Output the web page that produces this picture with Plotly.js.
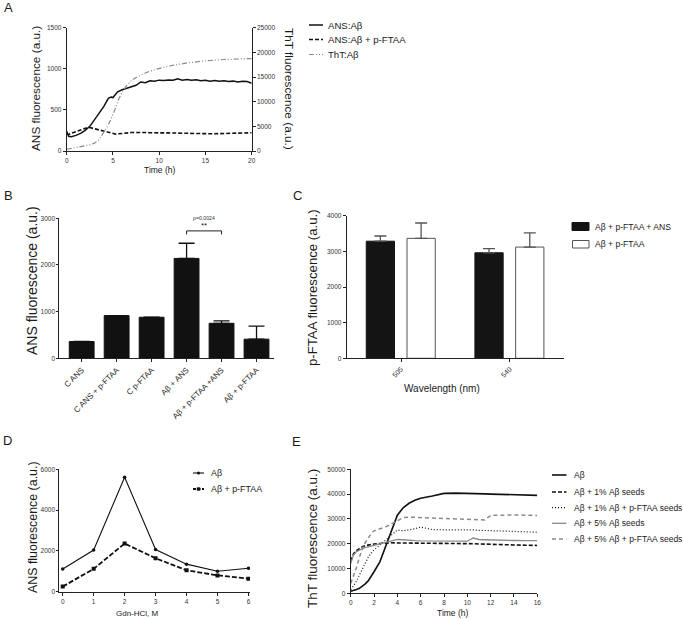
<!DOCTYPE html>
<html>
<head>
<meta charset="utf-8">
<script src="https://cdn.plot.ly/plotly-3.0.1.min.js"></script>
<style>html,body{margin:0;padding:0;background:#fff;}#chart{width:683px;height:619px;}</style>
</head>
<body>
<div id="chart"></div>
<script>
// ---------- Panel A ----------
const tA = [0,0.2,0.5,1,1.5,2,2.5,3,3.5,4,4.5,4.8,5,5.3,5.5,6,6.5,7,7.5,8,8.5,9,9.5,10,10.5,11,11.5,12,12.5,13,13.5,14,14.5,15,15.5,16,16.5,17,17.5,18,18.5,19,19.5,20];
const ansAb = [240,180,175,190,215,250,300,375,455,540,640,655,650,700,720,745,765,785,800,840,830,855,850,862,858,865,860,878,862,870,860,868,855,860,850,858,848,855,845,850,840,848,845,825];
const ansAbFtaa = [215,200,215,235,255,275,285,270,250,235,220,212,210,205,208,215,220,225,225,228,225,222,224,222,220,220,218,220,218,217,218,215,213,212,210,210,212,213,215,215,216,218,220,222];
const thtAb = [350,420,520,650,800,1000,1250,1600,2300,3800,5300,6500,7300,8800,10000,12000,13300,14300,14900,15400,15800,16200,16500,16750,17000,17200,17400,17550,17700,17850,17950,18100,18200,18300,18350,18450,18500,18550,18580,18600,18650,18700,18750,18750];
const legendA = ["ANS:A\u03b2", "ANS:A\u03b2 + p-FTAA", "ThT:A\u03b2"];

// ---------- Panel B ----------
const catB = ["C ANS", "C ANS + p-FTAA", "C p-FTAA", "A\u03b2 + ANS", "A\u03b2 + p-FTAA +ANS", "A\u03b2 + p-FTAA"];
const valB = [360, 915, 880, 2140, 750, 410];
const errB = [0, 0, 0, 325, 50, 280];
const sigB = {from: 3, to: 4, level: 2730, stars: "**", p: "p=0.0024"};

// ---------- Panel C ----------
const catC = ["505", "540"];
const valC_ans = [3285, 2960];
const errC_ans = [145, 115];
const valC_ftaa = [3365, 3120];
const errC_ftaa = [430, 400];
const legendC = ["A\u03b2 + p-FTAA + ANS", "A\u03b2 + p-FTAA"];

// ---------- Panel D ----------
const gdnD = [0, 1, 2, 3, 4, 5, 6];
const dAb = [1110, 2040, 5610, 2070, 1350, 1000, 1150];
const dAbFtaa = [250, 1120, 2360, 1640, 1050, 800, 640];
const legendD = ["A\u03b2", "A\u03b2 + p-FTAA"];

// ---------- Panel E ----------
const tE = [0,0.25,0.5,0.75,1,1.25,1.5,1.75,2,2.5,3,3.5,4,4.5,5,5.5,6,7,8,9,10,10.5,11,11.5,12,13,14,15,16];
const eAb = [800,1000,1500,2000,2800,3800,5000,6700,8700,12700,19000,25500,31500,34500,36300,37500,38300,39200,40300,40400,40400,40300,40200,40100,40000,39900,39800,39600,39500];
const eAb1 = [13000,16000,17200,18000,18800,19200,19500,19700,19900,20100,20300,20400,20300,20300,20300,20300,20300,20300,20200,20100,20000,20000,19900,19800,19800,19600,19500,19400,19300];
const eAb1F = [1500,3000,5000,7500,10000,12500,14500,16200,17500,19500,21500,23500,25500,25200,25500,26000,26700,25700,25600,25700,25500,25600,25400,25300,25100,25000,25000,24800,24600];
const eAb5 = [12000,15500,16800,17500,18000,18400,18700,19000,19300,19800,20500,21200,21700,21600,21300,21200,21100,21000,21000,20900,21000,22300,21700,21600,21500,21400,21300,21200,21200];
const eAb5F = [4000,7000,10500,14500,18000,20500,22500,24000,25200,26000,26800,28000,29300,30500,30700,30600,30500,30300,30200,30100,29800,29700,29600,29600,31400,31600,31600,31500,31400];
const legendE = ["A\u03b2", "A\u03b2 + 1% A\u03b2 seeds", "A\u03b2 + 1% A\u03b2 + p-FTAA seeds", "A\u03b2 + 5% A\u03b2 seeds", "A\u03b2 + 5% A\u03b2 + p-FTAA seeds"];

// ---------- helpers ----------
const W = 683, H = 619;
const PX = x => x / W;
const PY = y => 1 - y / H;
const FONT = "Liberation Sans, Arial, sans-serif";
const DASHDOT2 = "5px,2px,1px,2px,1px,2px";

const styleA = [
  {color: "#111", width: 1.5, dash: "solid"},
  {color: "#111", width: 1.6, dash: "4px,2px"},
  {color: "#8a8a8a", width: 1.2, dash: DASHDOT2}
];
const styleE = [
  {color: "#111", width: 1.6, dash: "solid"},
  {color: "#111", width: 1.6, dash: "4px,2px"},
  {color: "#111", width: 1.2, dash: "1px,2px"},
  {color: "#8a8a8a", width: 1.3, dash: "solid"},
  {color: "#8a8a8a", width: 1.5, dash: "4px,3px"}
];

const traces = [
  // A
  {type: "scatter", mode: "lines", x: tA, y: ansAb, name: legendA[0], xaxis: "x", yaxis: "y", line: styleA[0]},
  {type: "scatter", mode: "lines", x: tA, y: ansAbFtaa, name: legendA[1], xaxis: "x", yaxis: "y", line: styleA[1]},
  {type: "scatter", mode: "lines", x: tA, y: thtAb, name: legendA[2], xaxis: "x", yaxis: "y2", line: styleA[2]},
  // B
  {type: "bar", x: catB, y: valB, xaxis: "x2", yaxis: "y3", name: "ANS",
   marker: {color: "#111", line: {color: "#111", width: 1}},
   error_y: {type: "data", symmetric: false, array: errB, arrayminus: errB.map(() => 0), color: "#111", thickness: 1.3, width: 8}},
  // C
  {type: "bar", x: catC, y: valC_ans, xaxis: "x3", yaxis: "y4", name: legendC[0], width: 0.26, offset: -0.32,
   marker: {color: "#141414", line: {color: "#141414", width: 1}},
   error_y: {type: "data", symmetric: false, array: errC_ans, arrayminus: [0, 0], color: "#555", thickness: 1.3, width: 6}},
  {type: "bar", x: catC, y: valC_ftaa, xaxis: "x3", yaxis: "y4", name: legendC[1], width: 0.26, offset: 0.055,
   marker: {color: "#fff", line: {color: "#555", width: 1}},
   error_y: {type: "data", symmetric: false, array: errC_ftaa, arrayminus: [0, 0], color: "#555", thickness: 1.3, width: 6}},
  // D
  {type: "scatter", mode: "lines+markers", x: gdnD, y: dAb, name: legendD[0], xaxis: "x4", yaxis: "y5",
   line: {color: "#111", width: 1.1}, marker: {symbol: "circle", size: 3.5, color: "#111"}},
  {type: "scatter", mode: "lines+markers", x: gdnD, y: dAbFtaa, name: legendD[1], xaxis: "x4", yaxis: "y5",
   line: {color: "#111", width: 1.8, dash: "5px,2px"}, marker: {symbol: "square", size: 4, color: "#111"}},
  // E
  {type: "scatter", mode: "lines", x: tE, y: eAb, name: legendE[0], xaxis: "x5", yaxis: "y6", line: styleE[0]},
  {type: "scatter", mode: "lines", x: tE, y: eAb1, name: legendE[1], xaxis: "x5", yaxis: "y6", line: styleE[1]},
  {type: "scatter", mode: "lines", x: tE, y: eAb1F, name: legendE[2], xaxis: "x5", yaxis: "y6", line: styleE[2]},
  {type: "scatter", mode: "lines", x: tE, y: eAb5, name: legendE[3], xaxis: "x5", yaxis: "y6", line: styleE[3]},
  {type: "scatter", mode: "lines", x: tE, y: eAb5F, name: legendE[4], xaxis: "x5", yaxis: "y6", line: styleE[4]}
];
traces.forEach(t => t.showlegend = false);

const ax = {showgrid: false, zeroline: false, showline: true, linecolor: "#222", linewidth: 1,
  ticks: "outside", ticklen: 3, tickwidth: 1, tickcolor: "#222",
  tickfont: {size: 6.5, color: "#333", family: FONT}, fixedrange: true};
const mk = o => Object.assign({}, ax, o);

const annotations = [];
const shapes = [];
const txt = (text, x, y, size, opts) => annotations.push(Object.assign({
  text: text, x: PX(x), y: PY(y), xref: "paper", yref: "paper", showarrow: false,
  font: {size: size, color: "#1a1a1a", family: FONT}, xanchor: "center", yanchor: "middle"}, opts || {}));

// panel letters
txt("A", 8, 8, 13);
txt("B", 8, 195, 13);
txt("C", 297, 195, 13);
txt("D", 7, 440, 13);
txt("E", 296, 441, 13);

// axis titles
txt("ANS fluorescence (a.u.)", 36, 89, 11.8, {textangle: -90});
txt("ThT fluorescence (a.u.)", 289, 89, 11.8, {textangle: 90});
txt("Time (h)", 159, 170, 8.5);
txt("ANS fluorescence (a.u.)", 32, 281, 14, {textangle: -90});
txt("p-FTAA fluorescence (a.u.)", 312, 288, 13.2, {textangle: -90});
txt("Wavelength (nm)", 442, 388, 10);
txt("ANS fluorescence (a.u.)", 33, 527, 12.4, {textangle: -90});
txt("Gdn-HCl, M", 137, 613, 8);
txt("ThT fluorescence (a.u.)", 312, 539, 13.5, {textangle: -90});
txt("Time (h)", 452, 613, 8.5);

// manual legends
const legLine = (x0, x1, y, st) => shapes.push({type: "line", xref: "paper", yref: "paper",
  x0: PX(x0), x1: PX(x1), y0: PY(y), y1: PY(y), line: {color: st.color, width: st.width, dash: st.dash}});
[25, 39.5, 54.5].forEach((y, i) => { legLine(309, 323, y, styleA[i]); txt(legendA[i], 326, y, 9.6, {xanchor: "left"}); });

shapes.push({type: "rect", xref: "paper", yref: "paper", x0: PX(572), x1: PX(589), y0: PY(230.5), y1: PY(222.5), fillcolor: "#141414", line: {color: "#141414", width: 1}});
shapes.push({type: "rect", xref: "paper", yref: "paper", x0: PX(572.5), x1: PX(589), y0: PY(248), y1: PY(240.5), fillcolor: "#fff", line: {color: "#555", width: 1}});
txt(legendC[0], 593, 226.5, 8.6, {xanchor: "left"});
txt(legendC[1], 593, 244, 8.6, {xanchor: "left"});

legLine(193, 204, 473, {color: "#111", width: 1.1, dash: "solid"});
legLine(193, 204, 489, {color: "#111", width: 1.8, dash: "3px,1.5px"});
shapes.push({type: "circle", xref: "paper", yref: "paper", x0: PX(197), x1: PX(200), y0: PY(474.5), y1: PY(471.5), fillcolor: "#111", line: {width: 0}});
shapes.push({type: "rect", xref: "paper", yref: "paper", x0: PX(196.8), x1: PX(200.2), y0: PY(490.7), y1: PY(487.3), fillcolor: "#111", line: {width: 0}});
txt(legendD[0], 209, 473, 8.9, {xanchor: "left"});
txt(legendD[1], 209, 489, 8.9, {xanchor: "left"});

[475, 492, 507.7, 523.3, 539].forEach((y, i) => { legLine(552, 566.5, y, styleE[i]); txt(legendE[i], 572, y, 8.5, {xanchor: "left"}); });

// significance bracket in B
[[sigB.from, sigB.from, sigB.level - 75, sigB.level], [sigB.from, sigB.to, sigB.level, sigB.level], [sigB.to, sigB.to, sigB.level - 75, sigB.level]].forEach(s =>
  shapes.push({type: "line", xref: "x2", yref: "y3", x0: s[0], x1: s[1], y0: s[2], y1: s[3], line: {color: "#222", width: 1}}));
annotations.push({text: sigB.stars, xref: "x2", yref: "y3", x: (sigB.from + sigB.to) / 2, y: sigB.level + 110, showarrow: false,
  font: {size: 8, color: "#222", family: FONT}, yanchor: "middle"});
annotations.push({text: sigB.p, xref: "x2", yref: "paper", x: (sigB.from + sigB.to) / 2, y: PY(218.5), showarrow: false,
  font: {size: 5.2, color: "#333", family: FONT}, yanchor: "middle"});

const layout = {
  width: W, height: H, margin: {l: 0, r: 0, t: 0, b: 0},
  paper_bgcolor: "#fff", plot_bgcolor: "rgba(0,0,0,0)",
  font: {family: FONT, color: "#1a1a1a"},
  showlegend: false, barmode: "group", bargap: 0.29,
  xaxis: mk({domain: [PX(66.7), PX(251.7)], anchor: "y", range: [0, 20], tickvals: [0, 5, 10, 15, 20]}),
  yaxis: mk({domain: [PY(151), PY(27.7)], anchor: "x", range: [0, 1500], tickvals: [0, 500, 1000, 1500]}),
  yaxis2: mk({overlaying: "y", side: "right", anchor: "x", range: [0, 25000], tickvals: [0, 5000, 10000, 15000, 20000, 25000], tickformat: "d"}),
  xaxis2: mk({domain: [PX(59.3), PX(274)], anchor: "y3", type: "category", range: [-0.64, 5.5], tickangle: -45,
    tickfont: {size: 8, color: "#222", family: FONT}}),
  yaxis3: mk({domain: [PY(358.3), PY(218.3)], anchor: "x2", range: [0, 3000], tickvals: [0, 1000, 2000, 3000], ticklen: 2}),
  xaxis3: mk({domain: [PX(346.7), PX(564)], anchor: "y4", type: "category", range: [-0.5, 1.5], tickangle: -45,
    tickfont: {size: 7, color: "#333", family: FONT}}),
  yaxis4: mk({domain: [PY(358.3), PY(215.7)], anchor: "x3", range: [0, 4000], tickvals: [0, 1000, 2000, 3000, 4000]}),
  xaxis4: mk({domain: [PX(59.3), PX(250)], anchor: "y5", range: [-0.11, 6.05], tickvals: [0, 1, 2, 3, 4, 5, 6]}),
  yaxis5: mk({domain: [PY(591.7), PY(469.3)], anchor: "x4", range: [0, 6000], tickvals: [0, 2000, 4000, 6000], ticklen: 2}),
  xaxis5: mk({domain: [PX(350.7), PX(537.3)], anchor: "y6", range: [0, 16], tickvals: [0, 2, 4, 6, 8, 10, 12, 14, 16]}),
  yaxis6: mk({domain: [PY(593.3), PY(469.3)], anchor: "x5", range: [0, 50000], tickvals: [0, 10000, 20000, 30000, 40000, 50000], tickformat: "d"}),
  annotations: annotations,
  shapes: shapes
};

Plotly.newPlot("chart", traces, layout, {displayModeBar: false, staticPlot: true});
</script>
</body>
</html>
